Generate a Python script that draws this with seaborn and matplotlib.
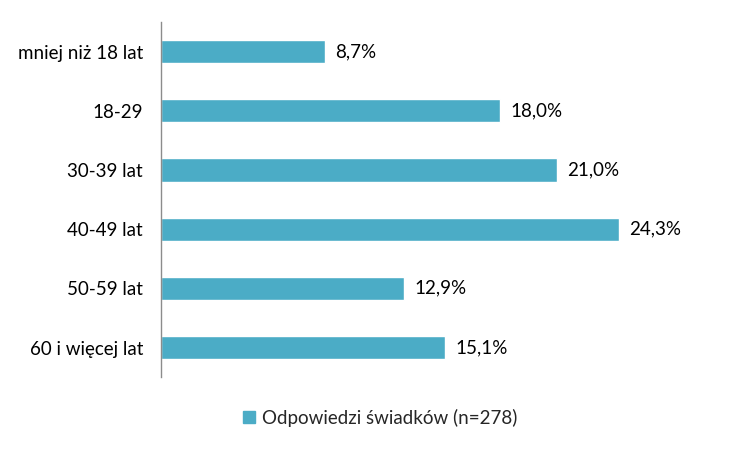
import matplotlib
matplotlib.use("Agg")
import matplotlib.pyplot as plt
import seaborn as sns
import pandas as pd

categories = ["mniej niż 18 lat", "18-29", "30-39 lat", "40-49 lat", "50-59 lat", "60 i więcej lat"]
values = [8.7, 18.0, 21.0, 24.3, 12.9, 15.1]
series_name = "Odpowiedzi świadków (n=278)"

df = pd.DataFrame({"kat": categories, "val": values, "seria": series_name})

sns.set_theme(style="white")
plt.rcParams["font.family"] = ["Lato", "DejaVu Sans"]

fig = plt.figure(figsize=(7.5, 4.5), dpi=100)
ax = fig.add_axes([0.2147, 0.162, 0.968 - 0.2147, 0.951 - 0.162])
color = "#4BACC6"
sns.barplot(data=df, y="kat", x="val", hue="seria", palette=[color], width=0.39,
            orient="h", ax=ax, legend=True, saturation=1)

ax.set_xlim(0, 30)
ax.set_ylim(5.5, -0.5)
ax.set_xlabel("")
ax.set_ylabel("")
ax.set_xticks([])
for s in ["top", "right", "bottom"]:
    ax.spines[s].set_visible(False)
ax.spines["left"].set_color("#8c8c8c")
ax.spines["left"].set_linewidth(1.0)
ax.tick_params(axis="y", length=0, pad=13, labelsize=13.5, labelcolor="#000000")

for i, v in enumerate(values):
    ax.text(v + 0.55, i, f"{v:.1f}%".replace(".", ","), va="center", ha="left",
            fontsize=13.5, color="#000000")

ax.get_legend().remove()
handles = [plt.Rectangle((0, 0), 1, 1, color=color)]
fig.legend(handles, [series_name], loc="center", bbox_to_anchor=(0.507, 0.072),
           frameon=False, fontsize=13.5, handlelength=0.65, handleheight=0.65,
           handletextpad=0.35)

fig.savefig("out.png", dpi=100)
